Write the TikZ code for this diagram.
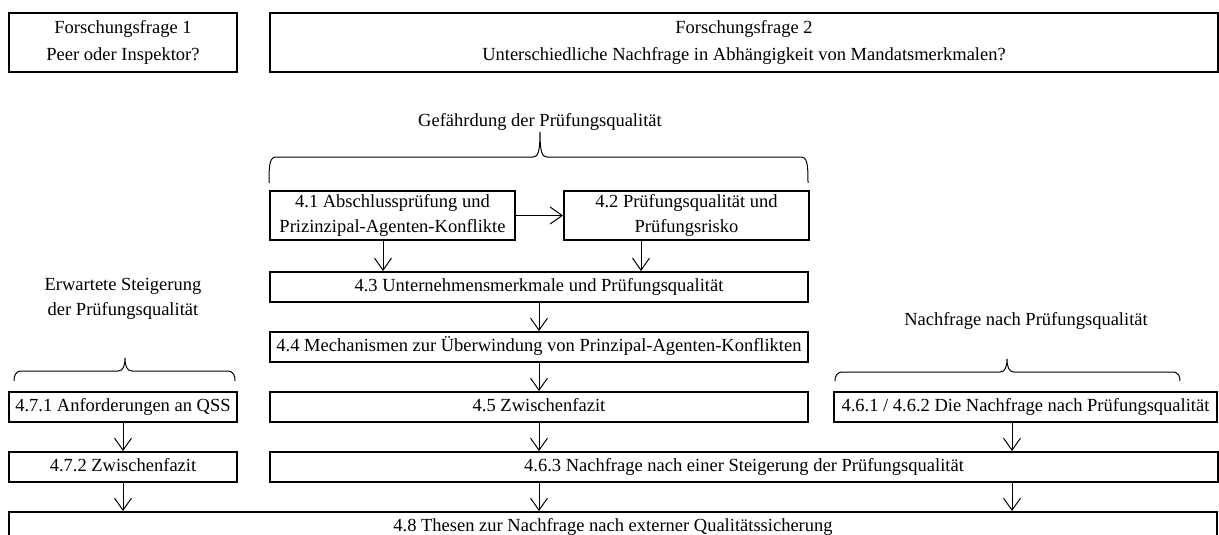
\documentclass[tikz,border=0pt]{standalone}
\usepackage{fontspec}
\setmainfont{Liberation Serif}
\usetikzlibrary{arrows.meta}

% geschweifte Klammer: links, rechts, Spitze, Enden, Linie, oben
\newcommand{\klammer}[6]{%
  \draw[brace line] (#1,#4) .. controls (#1,#5+5) and (#1+1,#5) .. (#1+8,#5)
    -- (#3-7,#5) .. controls (#3-2,#5) and (#3,#5-5) .. (#3,#6)
    .. controls (#3,#5-5) and (#3+2,#5) .. (#3+7,#5)
    -- (#2-8,#5) .. controls (#2-1,#5) and (#2,#5+5) .. (#2,#4);}

\begin{document}
\begin{tikzpicture}[x=1pt,y=-1pt,>={Straight Barb[length=12pt,width=17pt]},
  main box/.style={rectangle,draw,line width=2pt,inner sep=1pt,
  font=\fontsize{18.5}{25}\selectfont},
  one line/.style={main box,text height=13pt,text depth=4.5pt,minimum height=30pt},
  two line/.style={main box,align=center},
  label text/.style={align=center,font=\fontsize{18.5}{25}\selectfont},
  brace line/.style={line width=1pt}]

  \clip (0,0) rectangle (1219,535);

  %Forschungsfragen
  \node[two line,minimum width=228pt,minimum height=59pt,
    font=\fontsize{18.5}{27}\selectfont] (F1) at (123,42.5)
    {Forschungsfrage 1\\Peer oder Inspektor?};
  \node[two line,minimum width=948pt,minimum height=59pt,
    font=\fontsize{18.5}{27}\selectfont] (F2) at (744,42.5)
    {Forschungsfrage 2\\Unterschiedliche Nachfrage in Abh\"angigkeit von Mandatsmerkmalen?};

  %Gefaehrdung der Pruefungsqualitaet
  \node[label text] (GP) at (540,122) {Gef\"ahrdung der Pr\"ufungsqualit\"at};
  \node[two line,minimum width=245pt,minimum height=49pt] (AK) at (392.5,215.5)
    {4.1 Abschlusspr\"ufung und\\Prizinzipal-Agenten-Konflikte};
  \node[two line,minimum width=245pt,minimum height=49pt] (PR) at (686.5,215.5)
    {4.2 Pr\"ufungsqualit\"at und\\Pr\"ufungsrisko};
  \node[one line,minimum width=538pt] (UP) at (539,287)
    {4.3 Unternehmensmerkmale und Pr\"ufungsqualit\"at};
  \node[one line,minimum width=538pt] (MP) at (539,347)
    {4.4 Mechanismen zur \"Uberwindung von Prinzipal-Agenten-Konflikten};
  \node[one line,minimum width=538pt] (ZF) at (539,407) {4.5 Zwischenfazit};

  %Nachfrage nach Pruefungsqualitaet
  \node[label text] (NN) at (1026,321) {Nachfrage nach Pr\"ufungsqualit\"at};
  \node[one line,minimum width=383pt] (NP) at (1025.5,407)
    {4.6.1 / 4.6.2 Die Nachfrage nach Pr\"ufungsqualit\"at};
  \node[one line,minimum width=948pt] (NS) at (744,467)
    {4.6.3 Nachfrage nach einer Steigerung der Pr\"ufungsqualit\"at};

  %Erwartete Steigerung
  \node[label text] (ES) at (123,299) {Erwartete Steigerung\\der Pr\"ufungsqualit\"at};
  \node[one line,minimum width=228pt] (AQ) at (123,407) {4.7.1 Anforderungen an QSS};
  \node[one line,minimum width=228pt] (ZZ) at (123,467) {4.7.2 Zwischenfazit};

  \node[one line,minimum width=1208pt] (TN) at (613,527)
    {4.8 Thesen zur Nachfrage nach externer Qualit\"atssicherung};

  \coordinate (s41) at (383,0);
  \coordinate (s42) at (641,0);
  \coordinate (s46) at (1012,0);

  \klammer{269}{808}{540}{183}{157}{132}
  \klammer{14}{235}{125}{381}{371}{358}
  \klammer{835}{1180}{1007}{381}{372}{359}

  \path[->,line width=1pt]
    %Kapitel 4.1 bis 4.5
    (AK) edge (PR)
    (AK.south -| s41) edge (UP.north -| s41)
    (PR.south -| s42) edge (UP.north -| s42)
    (UP) edge (MP)
    (MP) edge (ZF)
    (ZF) edge (NS.north -| ZF)
    (NS.south -| ZF) edge (TN.north -| ZF)

    %Kapitel 4.6
    (NP.south -| s46) edge (NS.north -| s46)
    (NS.south -| s46) edge (TN.north -| s46)

    %Kapitel 4.7
    (AQ) edge (ZZ)
    (ZZ) edge (TN.north -| ZZ);

\end{tikzpicture}
\end{document}
